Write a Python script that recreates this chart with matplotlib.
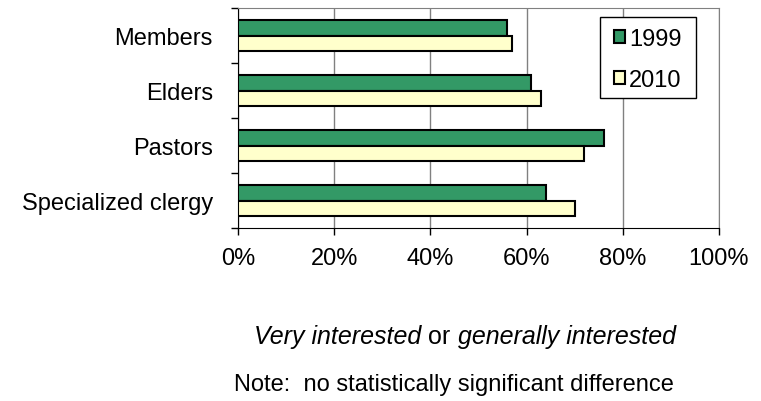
import numpy as np
import matplotlib
matplotlib.use('Agg')
import matplotlib.pyplot as plt
from matplotlib.ticker import FixedLocator, NullFormatter
from matplotlib.patches import Patch, Rectangle

plt.rcParams['font.family'] = ['Liberation Sans', 'DejaVu Sans']

categories = ['Members', 'Elders', 'Pastors', 'Specialized clergy']
series_names = ['1999', '2010']
values_1999 = [56, 61, 76, 64]
values_2010 = [57, 63, 72, 70]
xtick_values = [0, 20, 40, 60, 80, 100]
xtick_labels = ['0%', '20%', '40%', '60%', '80%', '100%']

green = '#339966'
cream = '#FFFFCC'

W, H = 761, 402
fig = plt.figure(figsize=(W/100, H/100), dpi=100)
ax = fig.add_axes([238/W, 1 - 229/H, (719-238)/W, (229-9)/H])

n = len(categories)
pos = np.arange(n)[::-1].astype(float)   # Members at top
h = 0.28
ax.barh(pos + h/2, values_1999, height=h, color=green, edgecolor='black', lw=1.5, zorder=3)
ax.barh(pos - h/2, values_2010, height=h, color=cream, edgecolor='black', lw=1.5, zorder=3)

ax.set_xlim(0, 100)
ax.set_ylim(-0.5, n - 0.5)

ax.set_xticks(xtick_values)
ax.set_xticklabels(xtick_labels, fontsize=17)
ax.tick_params(axis='x', direction='out', length=5, pad=9, width=1)

# category labels centred, ticks on the boundaries
ax.yaxis.set_major_locator(FixedLocator(np.arange(n + 1) - 0.5))
ax.yaxis.set_major_formatter(NullFormatter())
ax.yaxis.set_minor_locator(FixedLocator(pos))
ax.set_yticklabels(categories, minor=True, fontsize=17)
ax.tick_params(axis='y', which='major', direction='out', length=5, width=1)
ax.tick_params(axis='y', which='minor', length=0, pad=18)

ax.grid(axis='x', color='#808080', lw=1, zorder=0)
ax.spines['left'].set_color('black')
ax.spines['bottom'].set_color('black')
ax.spines['top'].set_color('#808080')
ax.spines['right'].set_color('#808080')

# legend: box drawn by hand so the side padding can differ from the top/bottom
box = Rectangle((600/W, 1 - 99/H), 96/W, 81/H, transform=fig.transFigure,
                facecolor='white', edgecolor='black', lw=1, zorder=5)
fig.add_artist(box)
handles = [Patch(facecolor=green, edgecolor='black', lw=1.5),
           Patch(facecolor=cream, edgecolor='black', lw=1.5)]
leg = fig.legend(handles, series_names, loc='upper left', bbox_to_anchor=(614/W, 1 - 29/H),
                 fontsize=17, frameon=False, handlelength=0.45, handleheight=0.45,
                 handletextpad=0.2, labelspacing=0.8, borderpad=0, borderaxespad=0)
leg.set_zorder(6)

# x axis title: italic / normal / italic pieces laid side by side
fig.canvas.draw()
renderer = fig.canvas.get_renderer()
pieces = [('Very interested', 'italic'), (' or ', 'normal'), ('generally interested', 'italic')]
ytitle = 1 - 337/H
texts = [fig.text(0, ytitle, s, style=st, fontsize=18, ha='left', va='center') for s, st in pieces]
widths = [t.get_window_extent(renderer).width for t in texts]
x = 465 - sum(widths) / 2
for t, w in zip(texts, widths):
    t.set_x(x / W)
    x += w

fig.text(454/W, 1 - 385/H, 'Note:  no statistically significant difference', fontsize=17, ha='center', va='center')

fig.savefig('out.png', dpi=100)
